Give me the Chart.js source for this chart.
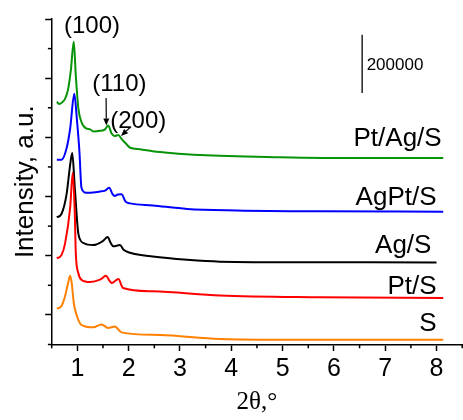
<!DOCTYPE html>
<html><head><meta charset="utf-8">
<script src="https://cdn.jsdelivr.net/npm/chart.js@4/dist/chart.umd.min.js"></script>
<style>html,body{margin:0;padding:0;background:#fff}#wrap{width:463px;height:420px}</style>
</head><body><div id="wrap"><canvas id="c" width="463" height="420"></canvas></div>
<script>
// ---- data ----
const xTicks = [1,2,3,4,5,6,7,8];
const xMinorTicks = [0.5,1.5,2.5,3.5,4.5,5.5,6.5,7.5,8.5];
const yMajorTicks = [100000,300000,500000,700000,900000,1100000];
const yMinorTicks = [0,200000,400000,600000,800000,1000000];

const sX = [0.60,0.69,0.76,0.82,0.86,0.89,0.93,0.99,1.05,1.12,1.31,1.47,1.60,1.73,1.86,2.61,3.78,5.73,8.13];
const sY = [121000,130000,163000,208000,232000,208000,141000,97000,72000,63000,58000,68000,56000,61000,41000,32000,19000,16000,16000];

const ptX = [0.60,0.69,0.76,0.86,0.91,0.95,0.97,1.02,1.08,1.25,1.44,1.56,1.62,1.67,1.80,1.89,2.47,3.78,5.73,8.13];
const ptY = [291000,302000,341000,463000,580000,441000,308000,241000,219000,211000,219000,232000,217000,208000,221000,191000,180000,166000,160000,157000];

const agX = [0.60,0.69,0.79,0.86,0.90,0.95,1.02,1.12,1.31,1.50,1.59,1.65,1.70,1.83,1.90,2.03,2.47,3.14,3.78,5.73,8.00];
const agY = [430000,441000,508000,608000,647000,530000,374000,343000,336000,350000,363000,343000,332000,336000,320000,310000,297000,286000,280000,278000,277000];

const agptX = [0.60,0.69,0.79,0.86,0.94,0.99,1.04,1.08,1.17,1.25,1.44,1.54,1.62,1.69,1.73,1.79,1.86,1.94,2.03,2.47,3.14,4.11,5.73,8.13];
const agptY = [624000,624000,663000,730000,847000,763000,653000,530000,513000,513000,517000,520000,530000,507000,502000,507000,508000,483000,477000,470000,458000,453000,450000,449000];

const ptagX = [0.60,0.65,0.70,0.76,0.82,0.875,0.93,0.97,1.02,1.08,1.17,1.25,1.31,1.44,1.54,1.60,1.67,1.73,1.80,1.86,1.94,2.03,2.22,2.47,2.81,3.39,4.95,6.50,8.13];
const ptagY = [820000,813000,818000,830000,863000,930000,1023000,908000,797000,752000,730000,727000,720000,722000,727000,740000,712000,705000,708000,695000,680000,665000,660000,653000,647000,640000,633000,630000,630000];

const seriesNames = ['S','Pt/S','Ag/S','AgPt/S','Pt/Ag/S'];
const seriesColors = ['#ff8000','#ff0000','#000000','#0000ff','#089408'];
const seriesXs = [sX, ptX, agX, agptX, ptagX];
const seriesYs = [sY, ptY, agY, agptY, ptagY];

// labels at right end of each curve: [right x, baseline y]
const seriesLabelPos = [[8.0,47000],[8.0,170000],[7.9,310000],[8.0,473000],[8.1,670000]];

// peak annotations
const peakLabels = ['(100)','(110)','(200)'];
const peakLabelPos = [[1.285,1052000,'center'],[1.82,858000,'center'],[1.64,732000,'left']];
const arrows = [[1.56,833000,1.565,740000],[2.045,736000,1.85,705000]];

// scale bar
const scaleBarX = 6.55, scaleBarFrom = 850000, scaleBarTo = 1047000, scaleBarText = '200000';

const datasets = seriesNames.map((n,i)=>({
  label:n,
  data: seriesXs[i].map((xv,j)=>({x:xv,y:seriesYs[i][j]})),
  borderColor: seriesColors[i],
  borderWidth: 2,
  pointRadius: 0,
  fill:false,
  cubicInterpolationMode:'monotone'
}));

const FONT = '"Liberation Sans", Arial, sans-serif';

const deco = {
  id:'deco',
  afterDraw(chart){
    const {ctx, scales:{x,y}} = chart;
    ctx.save();
    ctx.strokeStyle='#000'; ctx.fillStyle='#000'; ctx.lineWidth=1.5;
    const line=(a,b,c,d)=>{ctx.beginPath();ctx.moveTo(a,b);ctx.lineTo(c,d);ctx.stroke();};
    for (const v of xMinorTicks){const px=x.getPixelForValue(v); line(px,y.bottom,px,y.bottom+3.8);}
    for (const v of yMinorTicks){const py=y.getPixelForValue(v); line(x.left,py,x.left-3.8,py);}
    // scale bar
    ctx.lineWidth=1.3;
    const sbx=x.getPixelForValue(scaleBarX);
    const sb1=y.getPixelForValue(scaleBarFrom), sb2=y.getPixelForValue(scaleBarTo);
    line(sbx,sb1,sbx,sb2);
    ctx.font='17px '+FONT; ctx.textAlign='left'; ctx.textBaseline='middle';
    ctx.fillText(scaleBarText, sbx+4.5, (sb1+sb2)/2+1.5);
    // series labels
    ctx.font='26px '+FONT; ctx.textAlign='right'; ctx.textBaseline='alphabetic';
    seriesNames.forEach((n,i)=>{
      ctx.fillText(n, x.getPixelForValue(seriesLabelPos[i][0]), y.getPixelForValue(seriesLabelPos[i][1]));
    });
    // peak labels
    ctx.font='24px '+FONT;
    peakLabels.forEach((t,i)=>{
      const p=peakLabelPos[i]; ctx.textAlign=p[2];
      ctx.fillText(t, x.getPixelForValue(p[0]), y.getPixelForValue(p[1]));
    });
    // arrows
    ctx.lineWidth=1.2;
    for (const a of arrows){
      const x1=x.getPixelForValue(a[0]), y1=y.getPixelForValue(a[1]);
      const x2=x.getPixelForValue(a[2]), y2=y.getPixelForValue(a[3]);
      const ang=Math.atan2(y2-y1,x2-x1), L=7, W=3;
      const bx=x2-L*Math.cos(ang), by=y2-L*Math.sin(ang);
      line(x1,y1,bx,by);
      ctx.beginPath(); ctx.moveTo(x2,y2);
      ctx.lineTo(bx+W*Math.sin(ang), by-W*Math.cos(ang));
      ctx.lineTo(bx-W*Math.sin(ang), by+W*Math.cos(ang));
      ctx.closePath(); ctx.fill();
    }
    ctx.restore();
  }
};

new Chart(document.getElementById('c'), {
  type:'line',
  data:{datasets},
  options:{
    responsive:false, animation:false, devicePixelRatio:1,
    layout:{padding:{left:0,right:0.8,top:19,bottom:3}},
    plugins:{legend:{display:false}, tooltip:{enabled:false}},
    scales:{
      x:{type:'linear', min:0.5, max:8.5,
        afterBuildTicks:(s)=>{s.ticks = xTicks.map(v=>({value:v}));},
        grid:{drawOnChartArea:false, drawTicks:true, tickLength:6.5, tickWidth:1.5, tickColor:'#000'},
        border:{display:true, color:'#000', width:1.5},
        ticks:{color:'#000', font:{family:FONT, size:25}, padding:3, maxRotation:0, autoSkip:false},
        title:{display:true, text:'2θ,°', color:'#000', font:{family:'"Liberation Serif", "Times New Roman", serif', size:25}, padding:{top:0,bottom:0}}
      },
      y:{type:'linear', min:0, max:1100000,
        afterBuildTicks:(s)=>{s.ticks = yMajorTicks.map(v=>({value:v}));},
        grid:{drawOnChartArea:false, drawTicks:true, tickLength:6.5, tickWidth:1.5, tickColor:'#000'},
        border:{display:true, color:'#000', width:1.5},
        ticks:{display:false},
        title:{display:true, text:'Intensity, a.u.', color:'#000', font:{family:FONT, size:26}, padding:{top:10.4,bottom:3.6}}
      }
    }
  },
  plugins:[deco]
});
</script></body></html>
